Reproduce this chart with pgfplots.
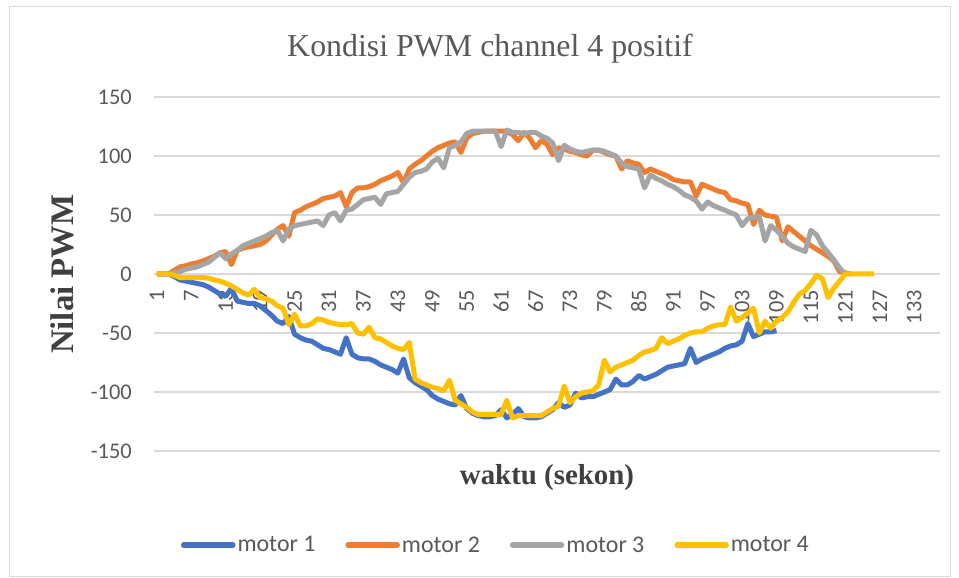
\documentclass[border=0pt]{standalone}
\usepackage{pgfplots}
\pgfplotsset{compat=1.18}
\usepackage{pgfplotstable}
\usepackage{fontspec}
\setmainfont{Liberation Serif}
\newfontfamily\carlito{Carlito}
\definecolor{mone}{HTML}{4472C4}
\definecolor{mtwo}{HTML}{ED7D31}
\definecolor{mthree}{HTML}{A5A5A5}
\definecolor{mfour}{HTML}{FFC000}
\definecolor{gridc}{HTML}{D9D9D9}
\definecolor{tickc}{HTML}{595959}
\definecolor{labc}{HTML}{404040}

\pgfplotstableread{
x m1 m2 m3 m4
1 0 0 0 0
2 0 0 0 0
3 0 0 0 0
4 -2 3 1 -1
5 -5 6 2 -3
6 -6 7 4 -3
7 -7 8.5 5 -3
8 -8 9.5 6 -3
9 -9 11 8 -3
10 -11 13 10 -3.5
11 -14 15 14 -5
12 -17 18 18 -6
13 -19 19 13 -8
14 -12 8 17 -10
15 -23 20 20 -13
16 -24 22 24 -16
17 -25 23 26 -18
18 -25 24 28 -13
19 -27 25 30 -20
20 -31 28 32 -21
21 -35 33 35 -23
22 -40 38 37 -27
23 -42 41 28 -29
24 -36 32 38 -43
25 -51 52 41 -34
26 -54 54 42 -44
27 -56 57 43 -44
28 -57 59 44 -42
29 -60 61 45 -38
30 -63 64 41 -39
31 -64 65 50 -41
32 -66 66 52 -42
33 -68 69 45 -43
34 -54 57 54 -43
35 -68 69 55 -42
36 -71 73 59 -50
37 -72 73 63 -51
38 -72 74 64 -45
39 -74 76 65 -54
40 -77 79 59 -55
41 -79 81 68 -58
42 -81 83 69 -61
43 -84 86 70 -63
44 -72 77 76 -64
45 -88 89 82 -58
46 -92 93 86 -89
47 -95 96 87 -92
48 -98 100 89 -94
49 -103 104 95 -96
50 -106 107 98 -97
51 -108 109 90 -99
52 -110 111 107 -90
53 -111 112 109 -107
54 -103 103 112 -110
55 -114 115 119 -113
56 -118 119 121 -117
57 -120 120 121 -119
58 -121 121 121 -119
59 -121 121 121 -119
60 -120 121 121 -119
61 -115 121 108 -119
62 -122 121 122 -107
63 -119 118 120 -122
64 -114 113 120 -120
65 -121 120 119 -120
66 -122 115 120 -120
67 -122 107 120 -120
68 -121 113 117 -120
69 -118 110 115 -117
70 -115 101 111 -114
71 -109 107 96 -112
72 -113 106 109 -95
73 -111 104 106 -109
74 -101 103 104 -104
75 -105 101 103 -101
76 -104 100 104 -100
77 -104 105 105 -99
78 -102 105 105 -94
79 -100 103 104 -73
80 -98 101 102 -83
81 -89 100 100 -79
82 -94 89 94 -77
83 -94 96 91 -75
84 -91 94 90 -73
85 -86 93 89 -69
86 -89 86 73 -66
87 -87 89 84 -65
88 -85 87 81 -63
89 -82 85 79 -54
90 -79 83 76 -59
91 -78 80 74 -57
92 -77 79 71 -55
93 -76 78 67 -52
94 -63 78 65 -50
95 -75 66 62 -49
96 -72 76 55 -49
97 -70 74 61 -46
98 -68 72 58 -44
99 -66 70 56 -43
100 -63 69 54 -43
101 -61 63 52 -28
102 -60 62 50 -40
103 -57 60 41 -37
104 -42 59 47 -33
105 -53 42 48 -29
106 -51 54 49 -50
107 -49 50 28 -40
108 -49 49 41 -46
109 -48 48 37 -40
110 nan 28 32 -37
111 nan 40 26 -32
112 nan 36 23 -24
113 nan 32 21 -17
114 nan 28 19 -14
115 nan 24 37 -8
116 nan 21 33 -1
117 nan 18 24 -4
118 nan 15 18 -20
119 nan 11 12 -12
120 nan 2 5 -6
121 nan 1 0 0
122 nan 0 nan 0
123 nan nan nan 0
124 nan nan nan 0
125 nan nan nan 0
126 nan nan nan 0
}\datatable

\begin{document}
\begin{tikzpicture}
\useasboundingbox (0,0) rectangle (959bp,578bp);
\draw[gridc, line width=1bp] (9.5bp,1.5bp) rectangle (950.5bp,571bp);
\begin{axis}[
  at={(154bp,127bp)}, anchor=south west,
  width=786bp, height=354bp, scale only axis,
  xmin=0.5, xmax=137.5, ymin=-150, ymax=150,
  axis line style={draw=none},
  major tick length=0,
  ymajorgrids, grid style={gridc, line width=1.2bp},
  ytick={-150,-100,-50,0,50,100,150},
  yticklabels={-150,-100,-50,0,50,100,150},
  xtick={1,7,...,133},
  /pgf/number format/assume math mode=true,
  tick label style={font=\carlito\fontsize{22.5}{27}\selectfont, text=tickc},
  yticklabel style={anchor=east, inner sep=0pt, xshift=-22bp},
  xticklabel style={rotate=90, anchor=east, inner sep=0pt},
  xticklabel shift=-161bp,
  title={Kondisi PWM channel 4 positif},
  title style={at={(axis description cs:0.4275,1.0975)}, anchor=base, font=\fontsize{32}{38}\selectfont, text=tickc},
  ylabel={Nilai PWM},
  ylabel style={at={(axis description cs:-0.117,0.5)}, anchor=center, font=\bfseries\fontsize{33}{38}\selectfont, text=labc},
  xlabel={waktu (sekon)},
  xlabel style={at={(axis description cs:0.5,-0.096)}, anchor=base, font=\bfseries\fontsize{29}{34}\selectfont, text=labc},
  legend style={at={(axis description cs:0.435,-0.2655)}, anchor=center, draw=none, fill=none,
    legend columns=4, font=\carlito\fontsize{24}{28}\selectfont, text=tickc,
    /tikz/every even column/.append style={column sep=28bp}, nodes={inner sep=2bp}},
  legend image code/.code={\draw[#1, line cap=round, line width=5.5bp] (0bp,0bp) -- (49bp,0bp);},
  every axis plot/.append style={line width=5bp, line join=round, no markers},
]
\addplot[mone] table[x=x, y=m1] {\datatable};
\addplot[mtwo] table[x=x, y=m2] {\datatable};
\addplot[mthree] table[x=x, y=m3] {\datatable};
\addplot[mfour] table[x=x, y=m4] {\datatable};
\legend{motor 1, motor 2, motor 3, motor 4}
\end{axis}
\end{tikzpicture}
\end{document}
